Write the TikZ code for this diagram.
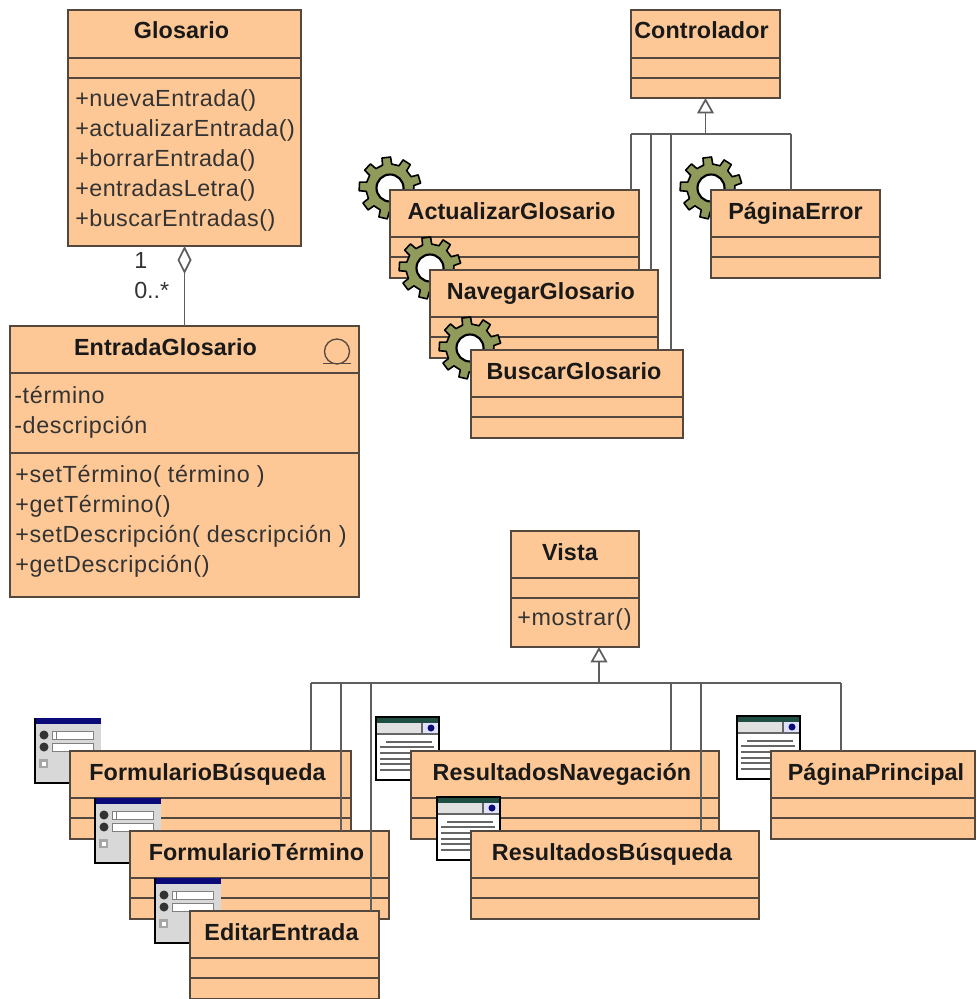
\documentclass[tikz,border=0pt]{standalone}
\usepackage{fontspec}
\setmainfont{Liberation Sans}
\newfontfamily\titlefont[LetterSpace=0.4]{Liberation Sans}
\newfontfamily\bodyfont[LetterSpace=2.0]{Liberation Sans}
\newfontfamily\widefont[LetterSpace=2.9]{Liberation Sans}
\usetikzlibrary{arrows.meta}

\definecolor{classfill}{HTML}{FDC896}
\definecolor{classedge}{HTML}{54483E}
\definecolor{linkgrey}{HTML}{5E5E5E}
\definecolor{geargreen}{HTML}{8F9A5B}
\definecolor{formgrey}{HTML}{D8D8D8}
\definecolor{formnavy}{HTML}{0A0A78}
\definecolor{pagegreen}{HTML}{1F4F42}

\tikzset{
  classbox/.style={draw=classedge, fill=classfill, line width=1.1pt, anchor=north west,
    inner sep=0, outer sep=0},
  classline/.style={draw=classedge, line width=1.1pt},
  classname/.style={anchor=base, inner sep=0, font=\fontsize{17.5}{22.5}\selectfont\titlefont\bfseries, text=black!90},
  classbody/.style={anchor=north west, inner sep=0, align=left,
    font=\fontsize{17.5}{22.5}\selectfont\bodyfont, text=black!80},
  classwide/.style={classbody, font=\fontsize{17.5}{22.5}\selectfont\widefont},
  multiplicity/.style={anchor=base west, inner sep=0, font=\fontsize{17.5}{22.5}\selectfont, text=black!80},
  genlink/.style={draw=linkgrey, line width=1.3pt},
  genarrow/.style={genlink, -{Triangle[open, length=11.5pt, width=12.5pt]}},
  aggarrow/.style={genlink, -{Diamond[open, length=21pt, width=10.5pt]}}
}

% title shift; name, x, y, width, height, title, first line, second line
\newcommand{\umlclass}[9][-3]{
  \node (#2) [classbox, minimum width=#5*0.75pt, minimum height=#6*0.75pt] at (#3,#4) {};
  \node (#2name) [classname] at ([shift={(#1,29)}]#2.north) {#7};
  \draw [classline] ([yshift=-#8*0.75pt]#2.north west) -- ++(#5,0);
  \draw [classline] ([yshift=-#9*0.75pt]#2.north west) -- ++(#5,0);
}

\newcommand{\gearicon}[2]{
  \begin{scope}[shift={(#1,#2)}]
    \draw [black, line width=1.2pt, fill=geargreen, line join=round] (-108:24)
      \foreach \a in {-97,-57,...,223} { -- (\a-11:24) -- (\a-8:31) -- (\a+8:31) -- (\a+11:24) } -- cycle;
    \draw [black, line width=1.6pt, fill=white] (0,0) circle (13.5);
  \end{scope}
}

\newcommand{\formicon}[2]{
  \begin{scope}[shift={(#1,#2)}]
    \fill [formgrey] (0,0) rectangle (66,65);
    \fill [formnavy] (0,0) rectangle (66,6);
    \draw [black, line width=1.5pt] (0,0) -- (0,65) -- (66,65);
    \foreach \y in {17,29} {
      \fill [black!80] (9,\y) circle (4.5);
    }
    \draw [gray, fill=white] (17,13) rectangle (58,21);
    \draw [gray, fill=white] (17,25) rectangle (58,33);
    \draw [gray] (21,13) -- (21,21);
    \fill [gray!70] (4,41) rectangle (13,50);
    \fill [white] (6.5,43.5) rectangle (10.5,47.5);
  \end{scope}
}

\newcommand{\pageicon}[2]{
  \begin{scope}[shift={(#1,#2)}]
    \fill [white] (0,0) rectangle (63,63);
    \fill [black!12] (0,6) rectangle (63,17);
    \fill [blue!12] (47,6) rectangle (63,17);
    \fill [pagegreen] (0,0) rectangle (63,6);
    \fill [formnavy] (55,11) circle (3.5);
    \draw [black!60, line width=.8pt] (46,6) -- (46,17) (0,17) -- (63,17);
    \draw [black!60, line width=.8pt] (10,25) -- (56,25);
    \foreach \y in {30,36,42,47,53} {
      \draw [black!60, line width=.8pt] (4,\y) -- (58,\y);
    }
    \draw [black, line width=1.5pt] (0,0) rectangle (63,63);
  \end{scope}
}

\begin{document}
\begin{tikzpicture}[x=0.75pt, y=-0.75pt]
  \useasboundingbox (0,0) rectangle (976,999);

  % glossary classes
  \umlclass{glosario}{68}{10}{233}{236}{Glosario}{48}{68}
  \node (glosarioops) [classbody] at (75,89)
    {+nuevaEntrada()\\+actualizarEntrada()\\+borrarEntrada()\\+entradasLetra()\\+buscarEntradas()};
  \umlclass[-19]{entradaglosario}{10}{326}{349}{271}{EntradaGlosario}{47}{127}
  \node (entradaattrs) [classwide] at (14,386) {-término\\-descripción};
  \node (entradaops) [classwide] at (15,465)
    {+setTérmino( término )\\+getTérmino()\\+setDescripción( descripción )\\+getDescripción()};
  \draw [classedge, line width=1pt] (337,351.5) circle (12.5);
  \draw [classedge, line width=1.1pt] (323,363.5) -- (351,363.5);
  \draw [aggarrow] (entradaglosario.north) -- (glosario.south);
  \node (uno) [multiplicity] at (134,268) {1};
  \node (muchos) [multiplicity] at (134,298) {0..*};

  % controllers
  \umlclass[-4]{controlador}{631}{10}{149}{88}{Controlador}{48}{68}
  \gearicon{390}{188}
  \umlclass{actualizarglosario}{390}{190}{249}{88}{ActualizarGlosario}{47}{67}
  \gearicon{430}{268}
  \umlclass{navegarglosario}{430}{270}{228}{88}{NavegarGlosario}{47}{67}
  \gearicon{470}{348}
  \umlclass{buscarglosario}{471}{350}{212}{88}{BuscarGlosario}{47}{67}
  \gearicon{711}{188}
  \umlclass[0]{paginaerror}{711}{190}{169}{88}{PáginaError}{47}{67}
  \coordinate (controlbus) at (705.5,134);
  \coordinate (controlleft) at (631,134);
  \coordinate (controlright) at (791,134);
  \draw [genarrow] (controlbus) -- (controlador.south);
  \draw [genlink] (controlleft) -- (controlright);
  \foreach \busx/\target in {631/actualizarglosario, 651/navegarglosario, 671/buscarglosario, 791/paginaerror} {
    \coordinate (drop) at (\busx,134);
    \draw [genlink] (drop) -- (drop |- \target.north);
  }

  % views
  \umlclass[-5]{vista}{511}{531}{128}{116}{Vista}{47}{67}
  \node (vistaops) [classwide] at (517,608) {+mostrar()};
  \formicon{35}{718}
  \umlclass{formulariobusqueda}{70}{751}{281}{88}{FormularioBúsqueda}{47}{67}
  \formicon{95}{798}
  \umlclass{formulariotermino}{130}{831}{259}{88}{FormularioTérmino}{47}{67}
  \formicon{155}{878}
  \umlclass{editarentrada}{190}{911}{189}{88}{EditarEntrada}{47}{67}
  \pageicon{376}{717}
  \umlclass{resultadosnavegacion}{411}{751}{308}{88}{ResultadosNavegación}{47}{67}
  \pageicon{437}{797}
  \umlclass{resultadosbusqueda}{471}{831}{288}{88}{ResultadosBúsqueda}{47}{67}
  \pageicon{737}{716}
  \umlclass[3]{paginaprincipal}{771}{751}{204}{88}{PáginaPrincipal}{47}{67}
  \coordinate (vistabus) at (599,683);
  \coordinate (vistaleft) at (311,683);
  \coordinate (vistaright) at (841,683);
  \draw [genarrow] (vistabus) -- (vista.south -| vistabus);
  \draw [genlink] (vistaleft) -- (vistaright);
  \foreach \busx/\target in {311/formulariobusqueda, 341/formulariotermino, 371/editarentrada,
      671/resultadosnavegacion, 701/resultadosbusqueda, 841/paginaprincipal} {
    \coordinate (drop) at (\busx,683);
    \draw [genlink] (drop) -- (drop |- \target.north);
  }
\end{tikzpicture}
\end{document}
